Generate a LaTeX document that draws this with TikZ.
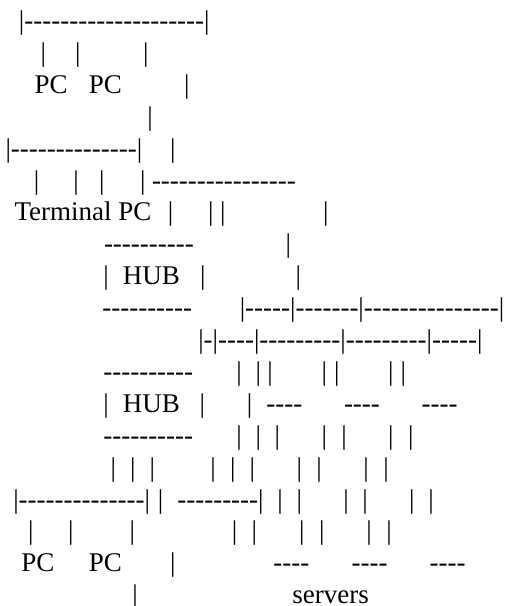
\documentclass[tikz,border=0pt]{standalone}
\usepackage{fontspec}
\newfontfamily\artfont{Liberation Serif}[Ligatures=TeXOff]
\tikzset{
  art/.style={anchor=base west, inner sep=0pt, outer sep=0pt,
              font=\artfont\fontsize{27}{32}\selectfont}
}
% one run of characters: name, left edge, line number, text
\newcommand\artline[4]{\node[art] (#1) at (#2,{29.5+31.9*(#3-1)}) {#4};}
\begin{document}
\begin{tikzpicture}[x=1pt,y=-1pt]
\fill[white] (0,0) rectangle (505,606);
\useasboundingbox (0,0) rectangle (505,606);
% upper workgroup
\artline{r1a}{19.0}{1}{|--------------------|}
\artline{r2a}{40.6}{2}{|}
\artline{r2b}{75.0}{2}{|}
\artline{r2c}{143.0}{2}{|}
\artline{r3a}{34.6}{3}{PC}
\artline{r3b}{88.9}{3}{PC}
\artline{r3c}{184.0}{3}{|}
\artline{r4a}{147.3}{4}{|}
\artline{r5a}{5.6}{5}{|--------------|}
\artline{r5b}{170.0}{5}{|}
\artline{r6a}{34.0}{6}{|}
\artline{r6b}{73.3}{6}{|}
\artline{r6c}{99.0}{6}{|}
\artline{r6d}{140.0}{6}{|}
\artline{r6e}{152.0}{6}{----------------}
\artline{r7a}{14.5}{7}{Terminal PC}
\artline{r7b}{167.8}{7}{|}
\artline{r7c}{208.0}{7}{|}
\artline{r7d}{220.0}{7}{|}
\artline{r7e}{323.0}{7}{|}
% first hub
\artline{r8a}{104.0}{8}{----------}
\artline{r8b}{285.6}{8}{|}
\artline{r9a}{103.3}{9}{|}
\artline{r9b}{122.8}{9}{HUB}
\artline{r9c}{200.0}{9}{|}
\artline{r9d}{295.6}{9}{|}
\artline{r10a}{102.3}{10}{----------}
\artline{r10b}{239.8}{10}{|-----|-------|---------------|}
\artline{r11a}{198.3}{11}{|-|----|---------|---------|-----|}
% second hub and server links
\artline{r12a}{103.3}{12}{----------}
\artline{r12b}{236.3}{12}{|}
\artline{r12c}{255.6}{12}{|}
\artline{r12d}{267.3}{12}{|}
\artline{r12e}{321.6}{12}{|}
\artline{r12f}{334.0}{12}{|}
\artline{r12g}{388.0}{12}{|}
\artline{r12h}{400.6}{12}{|}
\artline{r13a}{103.3}{13}{|}
\artline{r13b}{122.8}{13}{HUB}
\artline{r13c}{199.6}{13}{|}
\artline{r13d}{246.9}{13}{|}
\artline{r13e}{266.3}{13}{----}
\artline{r13f}{344.0}{13}{----}
\artline{r13g}{421.7}{13}{----}
\artline{r14a}{103.3}{14}{----------}
\artline{r14b}{236.3}{14}{|}
\artline{r14c}{255.6}{14}{|}
\artline{r14d}{274.6}{14}{|}
\artline{r14e}{321.6}{14}{|}
\artline{r14f}{341.3}{14}{|}
\artline{r14g}{388.0}{14}{|}
\artline{r14h}{408.0}{14}{|}
\artline{r15a}{110.6}{15}{|}
\artline{r15b}{130.0}{15}{|}
\artline{r15c}{149.6}{15}{|}
\artline{r15d}{210.3}{15}{|}
\artline{r15e}{230.0}{15}{|}
\artline{r15f}{249.6}{15}{|}
\artline{r15g}{296.6}{15}{|}
\artline{r15h}{316.3}{15}{|}
\artline{r15i}{363.3}{15}{|}
\artline{r15j}{383.3}{15}{|}
% lower workgroup and servers
\artline{r16a}{13.3}{16}{|--------------|}
\artline{r16b}{157.8}{16}{|}
\artline{r16c}{177.3}{16}{---------|}
\artline{r16d}{277.3}{16}{|}
\artline{r16e}{296.6}{16}{|}
\artline{r16f}{343.3}{16}{|}
\artline{r16g}{362.3}{16}{|}
\artline{r16h}{409.0}{16}{|}
\artline{r16i}{428.3}{16}{|}
\artline{r17a}{28.0}{17}{|}
\artline{r17b}{68.0}{17}{|}
\artline{r17c}{129.6}{17}{|}
\artline{r17d}{231.8}{17}{|}
\artline{r17e}{251.5}{17}{|}
\artline{r17f}{299.0}{17}{|}
\artline{r17g}{319.0}{17}{|}
\artline{r17h}{366.3}{17}{|}
\artline{r17i}{386.3}{17}{|}
\artline{r18a}{21.3}{18}{PC}
\artline{r18b}{88.9}{18}{PC}
\artline{r18c}{170.0}{18}{|}
\artline{r18d}{273.3}{18}{----}
\artline{r18e}{351.7}{18}{----}
\artline{r18f}{429.7}{18}{----}
\artline{r19a}{132.3}{19}{|}
\artline{r19b}{292.4}{19}{servers}
\end{tikzpicture}
\end{document}
